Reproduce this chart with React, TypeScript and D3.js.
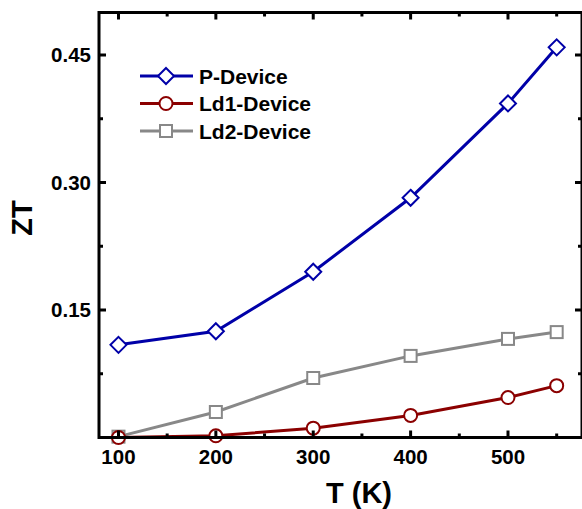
import React from "react";
import * as d3 from "d3";

// Temperature points (K)
const temps = [100, 200, 300, 400, 500, 550];
// ZT values for each device
const pDevice = [0.109, 0.125, 0.195, 0.282, 0.393, 0.459];
const ld1Device = [0.0, 0.002, 0.011, 0.026, 0.047, 0.061];
const ld2Device = [0.001, 0.030, 0.070, 0.096, 0.116, 0.124];

const xTicks = [100, 200, 300, 400, 500];
const xMinor = [150, 250, 350, 450, 550];
const yTicks = [0.15, 0.3, 0.45];
const yMinor = [0.075, 0.225, 0.375];

const seriesNames = ["P-Device", "Ld1-Device", "Ld2-Device"];
const seriesColors = ["#0000a8", "#8b0000", "#888888"];
const seriesShapes = ["diamond", "circle", "square"];

const W = 582;
const H = 509;
const margin = { left: 99, right: 0, top: 12.5, bottom: 71.5 };

function Marker({ shape, x, y, color }: { shape: string; x: number; y: number; color: string }) {
  if (shape === "diamond") {
    const r = 8;
    return (
      <path
        d={`M${x},${y - r}L${x + r},${y}L${x},${y + r}L${x - r},${y}Z`}
        fill="#fff"
        stroke={color}
        strokeWidth={2}
      />
    );
  }
  if (shape === "circle") {
    return <circle cx={x} cy={y} r={6.5} fill="#fff" stroke={color} strokeWidth={2} />;
  }
  return <rect x={x - 6} y={y - 6} width={12} height={12} fill="#fff" stroke={color} strokeWidth={2} />;
}

export default function App() {
  const x = d3.scaleLinear().domain([80, 576]).range([margin.left, W - margin.right]);
  const y = d3.scaleLinear().domain([0, 0.5]).range([H - margin.bottom, margin.top]);
  const values = [pDevice, ld1Device, ld2Device];
  const line = d3
    .line<[number, number]>()
    .x((d) => x(d[0]))
    .y((d) => y(d[1]));

  const x0 = x.range()[0];
  const x1 = x.range()[1];
  const y0 = y.range()[0];
  const y1 = y.range()[1];
  const font = "'Liberation Sans', Arial, sans-serif";

  return (
    <svg width={W} height={H} style={{ position: "absolute", left: 0, top: 0 }}>
      <rect width={W} height={H} fill="#fff" />
      {/* data lines (drawn order: gray, red, blue on top) */}
      {[2, 1, 0].map((i) => (
        <g key={seriesNames[i]}>
          <path
            d={line(temps.map((t, j) => [t, values[i][j]]) as [number, number][]) || ""}
            fill="none"
            stroke={seriesColors[i]}
            strokeWidth={3}
          />
          {temps.map((t, j) => (
            <Marker key={j} shape={seriesShapes[i]} x={x(t)} y={y(values[i][j])} color={seriesColors[i]} />
          ))}
        </g>
      ))}
      {/* frame */}
      <rect x={x0} y={y1} width={x1 - x0} height={y0 - y1} fill="none" stroke="#000" strokeWidth={3} />
      {/* x ticks, bottom and top */}
      {xTicks.map((t) => (
        <g key={"xt" + t}>
          <line x1={x(t)} x2={x(t)} y1={y0} y2={y0 - 7} stroke="#000" strokeWidth={3} />
          <line x1={x(t)} x2={x(t)} y1={y1} y2={y1 + 7} stroke="#000" strokeWidth={3} />
          <text x={x(t)} y={y0 + 26.5} textAnchor="middle" fontFamily={font} fontWeight="bold" fontSize={20.5}>
            {t}
          </text>
        </g>
      ))}
      {xMinor.map((t) => (
        <g key={"xm" + t}>
          <line x1={x(t)} x2={x(t)} y1={y0} y2={y0 - 4} stroke="#000" strokeWidth={3} />
          <line x1={x(t)} x2={x(t)} y1={y1} y2={y1 + 4} stroke="#000" strokeWidth={3} />
        </g>
      ))}
      {/* y ticks, left and right */}
      {yTicks.map((t) => (
        <g key={"yt" + t}>
          <line x1={x0} x2={x0 + 7} y1={y(t)} y2={y(t)} stroke="#000" strokeWidth={3} />
          <line x1={x1} x2={x1 - 7} y1={y(t)} y2={y(t)} stroke="#000" strokeWidth={3} />
          <text
            x={x0 - 8}
            y={y(t)}
            dy="0.36em"
            textAnchor="end"
            fontFamily={font}
            fontWeight="bold"
            fontSize={20.5}
          >
            {d3.format(".2f")(t)}
          </text>
        </g>
      ))}
      {yMinor.map((t) => (
        <g key={"ym" + t}>
          <line x1={x0} x2={x0 + 4} y1={y(t)} y2={y(t)} stroke="#000" strokeWidth={3} />
          <line x1={x1} x2={x1 - 4} y1={y(t)} y2={y(t)} stroke="#000" strokeWidth={3} />
        </g>
      ))}
      {/* axis titles */}
      <text x={359} y={503} textAnchor="middle" fontFamily={font} fontWeight="bold" fontSize={29}>
        T (K)
      </text>
      <text
        transform="translate(32,218) rotate(-90)"
        textAnchor="middle"
        fontFamily={font}
        fontWeight="bold"
        fontSize={29}
      >
        ZT
      </text>
      {/* legend */}
      {seriesNames.map((name, i) => {
        const ly = 76 + i * 27.5;
        return (
          <g key={"lg" + name}>
            <line x1={140} x2={193} y1={ly} y2={ly} stroke={seriesColors[i]} strokeWidth={3} />
            <Marker shape={seriesShapes[i]} x={166} y={ly} color={seriesColors[i]} />
            <text x={199} y={ly} dy="0.36em" fontFamily={font} fontWeight="bold" fontSize={21}>
              {name}
            </text>
          </g>
        );
      })}
    </svg>
  );
}
